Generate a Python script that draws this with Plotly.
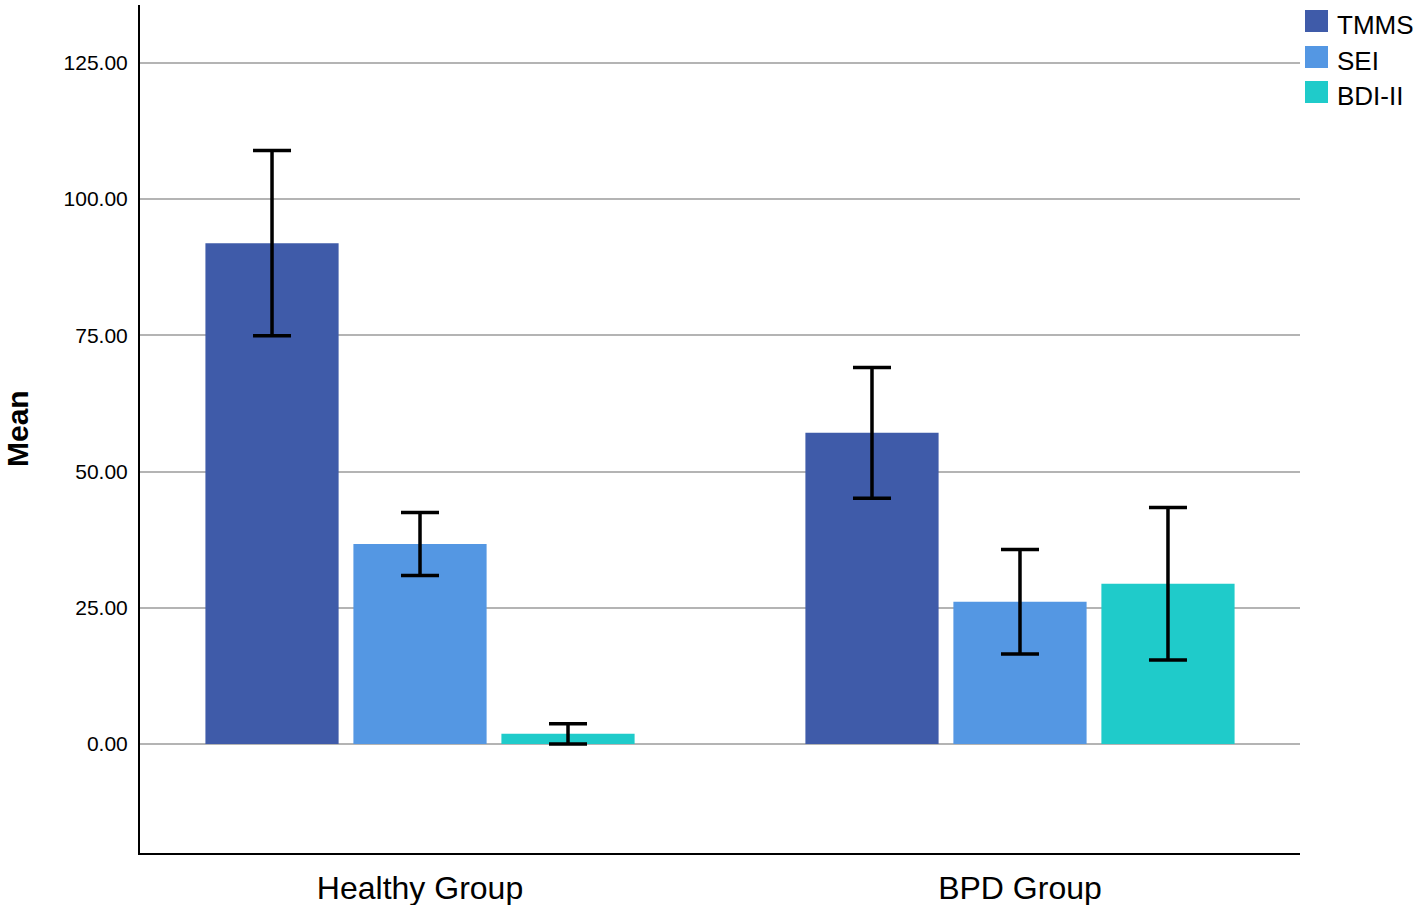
import plotly.graph_objects as go

categories = ["Healthy Group", "BPD Group"]
series_names = ["TMMS", "SEI", "BDI-II"]
tmms_mean = [91.9, 57.1]
tmms_err = [17.0, 12.0]
sei_mean = [36.7, 26.1]
sei_err = [5.8, 9.6]
bdi_mean = [1.9, 29.4]
bdi_err_plus = [1.8, 14.0]
bdi_err_minus = [1.9, 14.0]
colors = ["#3f5ba9", "#5497e3", "#1fcbca"]
ytick_vals = [0, 25, 50, 75, 100, 125]

W, H = 1424, 905
L, R, T, B = 140, 1300, 5, 853

def px_x(p):
    return (p - L) / (R - L)

def px_y(p):
    return (B - p) / (B - T)

FONT = "Liberation Sans, Arial, Helvetica, sans-serif"

fig = go.Figure()
means = [tmms_mean, sei_mean, bdi_mean]
errp = [tmms_err, sei_err, bdi_err_plus]
errm = [tmms_err, sei_err, bdi_err_minus]
for name, m, ep, em, c in zip(series_names, means, errp, errm, colors):
    fig.add_trace(go.Bar(
        x=categories, y=m, name=name, marker=dict(color=c, line=dict(width=0)),
        showlegend=False,
        error_y=dict(type="data", array=ep, arrayminus=em, symmetric=False,
                     color="black", thickness=3.5, width=19),
    ))

shapes = []
annotations = []
legend_centers = [21, 57, 92]
for name, c, cy in zip(series_names, colors, legend_centers):
    shapes.append(dict(type="rect", xref="paper", yref="paper",
                       x0=px_x(1305), x1=px_x(1328), y0=px_y(cy + 11), y1=px_y(cy - 11),
                       fillcolor=c, line=dict(width=0)))
    annotations.append(dict(text=name, xref="paper", yref="paper", x=px_x(1335), y=px_y(cy + 4),
                            xanchor="left", yanchor="middle", showarrow=False,
                            font=dict(family=FONT, size=26, color="black")))
annotations.append(dict(text="<b>Mean</b>", xref="paper", yref="paper", x=px_x(17), y=px_y(429),
                        xanchor="center", yanchor="middle", textangle=-90, showarrow=False,
                        font=dict(family=FONT, size=30, color="black")))

fig.update_layout(
    width=W, height=H,
    margin=dict(l=L, r=W - R, t=T, b=H - B, pad=0, autoexpand=False),
    plot_bgcolor="white", paper_bgcolor="white",
    barmode="group", bargap=0.26, bargroupgap=0.1,
    shapes=shapes, annotations=annotations,
    font=dict(family=FONT, color="black"),
    showlegend=False,
)
fig.update_xaxes(
    type="category", range=[-0.4667, 1.4667], automargin=False,
    showline=True, linecolor="black", linewidth=2,
    showgrid=False, ticks="", ticklabelstandoff=6,
    tickfont=dict(family=FONT, size=32, color="black"),
)
fig.update_yaxes(
    range=[-20, 135.6], tickvals=ytick_vals, tickformat=".2f", automargin=False,
    showline=True, linecolor="black", linewidth=2,
    showgrid=True, gridcolor="#b4b4b4", gridwidth=2, zeroline=False,
    ticks="", ticklabelstandoff=6,
    tickfont=dict(family=FONT, size=21, color="black"),
)

fig.write_html("out.html", config={"displayModeBar": False},
               post_script="document.body.style.margin = '0';")
